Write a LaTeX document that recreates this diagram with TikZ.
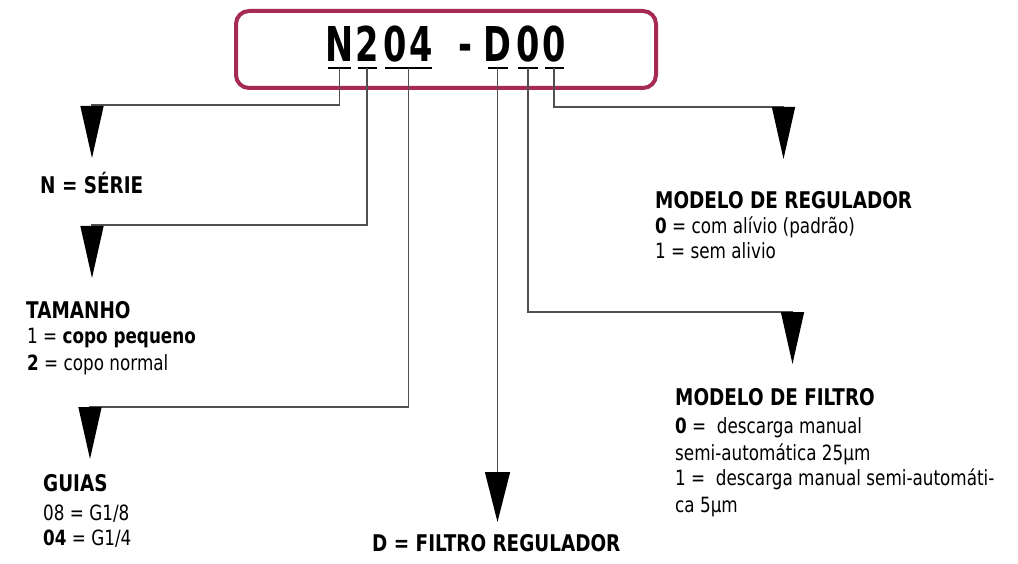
\documentclass[tikz,border=0pt]{standalone}
\usepackage{fontspec}
\setmainfont{DejaVu Sans}[FakeStretch=0.8]
\newfontfamily\bigf{DejaVu Sans}[FakeStretch=0.7]
\usetikzlibrary{arrows.meta,calc}
\definecolor{boxred}{HTML}{A52A54}
\definecolor{linegray}{HTML}{505050}
\begin{document}
\begin{tikzpicture}[x=1pt,y=-1pt,
  hd/.style={font=\fontsize{23}{23}\selectfont\bfseries, inner sep=0pt, anchor=base west},
  bd/.style={font=\fontsize{21}{21}\selectfont, inner sep=0pt, anchor=base west},
  big/.style={font=\bigf\fontsize{48}{48}\selectfont\bfseries, inner sep=0pt, anchor=base},
  uline/.style={line width=2.4pt, black},
  conn/.style={line width=1.4pt, linegray},
  tipn/.style={-{Triangle[width=23pt,length=52pt,color=black]}},
  tipd/.style={-{Triangle[width=25pt,length=50pt,color=black]}}]
\useasboundingbox (0,0) rectangle (1018,564);
\fill[white] (0,0) rectangle (1018,564);

% code box
\draw[boxred, line width=4pt, rounded corners=13pt, fill=white] (236,11) rectangle (656,88);

% code characters
\node[big] (cN) at (339.5,62) {N};
\node[big] (c2) at (367,62) {2};
\node[big] (c0) at (395.5,62) {0};
\node[big] (c4) at (421,62) {4};
\node[big] (cdash) at (465,62) {-};
\node[big] (cD) at (497.5,62) {D};
\node[big] (cA) at (528,62) {0};
\node[big] (cB) at (554,62) {0};

% underlines
\draw[uline] ($(cN.base)+(-11.5,6)$) -- ($(cN.base)+(11.5,6)$);
\draw[uline] ($(c2.base)+(-9.5,6)$) -- ($(c2.base)+(9.5,6)$);
\draw[uline] ($(c0.base)+(-10.5,6)$) -- ($(c4.base)+(11,6)$);
\draw[uline] ($(cD.base)+(-10,6)$) -- ($(cD.base)+(10,6)$);
\draw[uline] ($(cA.base)+(-10,6)$) -- ($(cA.base)+(10,6)$);
\draw[uline] ($(cB.base)+(-9.5,6)$) -- ($(cB.base)+(9.5,6)$);

\coordinate (uN) at ($(cN.base)+(0,6)$);
\coordinate (u2) at ($(c2.base)+(0,6)$);
\coordinate (u04) at ($(c0.base)!0.5!(c4.base)+(0.5,6)$);
\coordinate (uD) at ($(cD.base)+(0,6)$);
\coordinate (uA) at ($(cA.base)+(0,6)$);
\coordinate (uB) at ($(cB.base)+(0,6)$);

% turn points and arrow tips
\coordinate (kN) at (92,105);  \coordinate (tN) at (92,158);
\coordinate (k2) at (92,225);  \coordinate (t2) at (92,278);
\coordinate (k04) at (90,407); \coordinate (t04) at (90,459);
\coordinate (tD) at (497.5,522);
\coordinate (kB) at (783.5,107); \coordinate (tB) at (783.5,159);
\coordinate (kA) at (792.5,312); \coordinate (tA) at (792.5,364);

% connectors
\draw[conn, tipn] (uN) |- (kN) -- (tN);
\draw[conn, tipn] (u2) |- (k2) -- (t2);
\draw[conn, tipn] (u04) |- (k04) -- (t04);
\draw[conn, tipd] (uD) -- (tD);
\draw[conn, tipn] (uB) |- (kB) -- (tB);
\draw[conn, tipn] (uA) |- (kA) -- (tA);

% left labels
\node[hd] (lN) at (40,194) {N = SÉRIE};

\node[hd] (lT) at (26,318) {TAMANHO};
\node[bd] (lT1) at (27,343) {1 = \textbf{copo pequeno}};
\node[bd] (lT2) at (27,370) {\textbf{2} = copo normal};

\node[hd] (lG) at (43,491) {GUIAS};
\node[bd] (lG1) at (43,520) {08 = G1/8};
\node[bd] (lG2) at (43,545) {\textbf{04} = G1/4};

% bottom label
\node[hd] (lD) at (372,551) {D = FILTRO REGULADOR};

% right labels
\node[hd] (lR) at (655,209) {MODELO DE REGULADOR};
\node[bd] (lR1) at (655,234) {\textbf{0} = com alívio (padrão)};
\node[bd] (lR2) at (655,259) {1 = sem alivio};

\node[hd] (lF) at (675,405) {MODELO DE FILTRO};
\node[bd] (lF1) at (675,433) {\textbf{0} =\ \ descarga manual};
\node[bd] (lF2) at (675,460) {semi-automática 25µm};
\node[bd] (lF3) at (675,485) {1 =\ \ descarga manual semi-automáti-};
\node[bd] (lF4) at (675,512) {ca 5µm};
\end{tikzpicture}
\end{document}
